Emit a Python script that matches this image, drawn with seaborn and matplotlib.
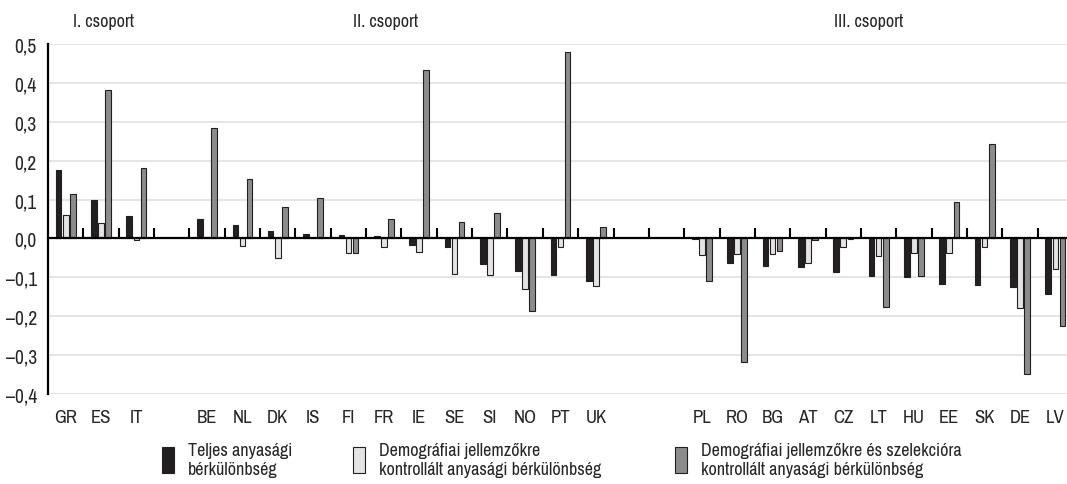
import matplotlib
matplotlib.use("Agg")
import matplotlib.pyplot as plt
from matplotlib.patches import Patch
import numpy as np
import pandas as pd
import seaborn as sns

# slots on the x axis (blank names leave empty slots between the groups)
order = ["GR", "ES", "IT", " ",
         "BE", "NL", "DK", "IS", "FI", "FR", "IE", "SE", "SI", "NO", "PT", "UK", "  ", "   ",
         "PL", "RO", "BG", "AT", "CZ", "LT", "HU", "EE", "SK", "DE", "LV"]
countries = [c for c in order if c.strip()]

teljes = [0.177, 0.100, 0.058,
          0.049, 0.034, 0.020, 0.012, 0.009, 0.007, -0.016, -0.021, -0.065, -0.084, -0.094, -0.110,
          -0.002, -0.064, -0.071, -0.074, -0.087, -0.096, -0.100, -0.116, -0.120, -0.125, -0.142]
demografiai = [0.060, 0.040, -0.003,
               0.004, -0.019, -0.050, 0.002, -0.037, -0.021, -0.036, -0.092, -0.094, -0.130, -0.022, -0.121,
               -0.043, -0.040, -0.040, -0.062, -0.023, -0.044, -0.037, -0.037, -0.022, -0.178, -0.079]
szelekcio = [0.115, 0.383, 0.182,
             0.285, 0.152, 0.082, 0.104, -0.037, 0.051, 0.433, 0.042, 0.066, -0.186, 0.480, 0.030,
             -0.110, -0.317, -0.031, -0.003, -0.001, -0.177, -0.096, 0.094, 0.244, -0.349, -0.225]

series = ["Teljes anyasági\nbérkülönbség",
          "Demográfiai jellemzőkre\nkontrollált anyasági bérkülönbség",
          "Demográfiai jellemzőkre és szelekcióra\nkontrollált anyasági bérkülönbség"]
colors = ["#231f20", "#e4e4e4", "#8c8c8c"]

groups = ["I. csoport", "II. csoport", "III. csoport"]

df = pd.DataFrame({
    "orszag": countries * 3,
    "ertek": teljes + demografiai + szelekcio,
    "sorozat": [series[0]] * len(countries) + [series[1]] * len(countries) + [series[2]] * len(countries),
})

sns.set_style("white")
plt.rcParams["font.family"] = ["Archivo Narrow", "DejaVu Sans"]
plt.rcParams["font.size"] = 13

fig = plt.figure(figsize=(10.67, 4.85), dpi=100)
ax = fig.add_axes([48 / 1067, 90 / 485, 1025 / 1067, 350 / 485])

sns.barplot(data=df, x="orszag", y="ertek", hue="sorozat", order=order, hue_order=series,
            palette=colors, width=0.6, gap=0.2, edgecolor="#231f20", linewidth=0.8,
            legend=False, ax=ax)

ax.set_ylim(-0.4, 0.5)
ax.set_xlim(-0.5, len(order) - 0.5)
yt = np.arange(-4, 6) / 10
ax.set_yticks(yt)
ax.set_yticklabels([f"{v:.1f}".replace(".", ",").replace("-", "\u2013") for v in yt])
ax.set_xlabel("")
ax.set_ylabel("")

ax.yaxis.grid(True, color="#e0e0e0", linewidth=1.2)
ax.set_axisbelow(True)

# zero line = top spine moved to y=0, with small upward ticks between the slots
ax.spines["top"].set_position(("data", 0))
ax.spines["top"].set_linewidth(1.6)
ax.spines["top"].set_color("black")
ax.spines["left"].set_linewidth(1.6)
ax.spines["left"].set_color("black")
ax.spines["right"].set_visible(False)
ax.spines["bottom"].set_visible(False)

ax.set_xticks(np.arange(len(order) - 1) + 0.5, minor=True)
ax.tick_params(axis="x", which="minor", bottom=False, top=True, direction="out",
               length=7, width=1.5, color="black")
ax.tick_params(axis="x", which="major", bottom=True, top=False, length=0, pad=11, labelsize=13.5)
ax.tick_params(axis="y", length=0, pad=8, labelsize=14)

# group titles
for name, xpos in zip(groups, [1.07, 9.06, 22.72]):
    ax.text(xpos, 1.065, name, transform=ax.get_xaxis_transform(), ha="center", va="center", fontsize=13)

# legend: three separate entries
for lab, col, xa in zip(series, colors, [162, 353, 675]):
    h = Patch(facecolor=col, edgecolor="#231f20", linewidth=0.8)
    fig.legend([h], [lab], loc="upper left", bbox_to_anchor=(xa / 1067, 42 / 485),
               frameon=False, borderpad=0, borderaxespad=0, handlelength=0.65,
               handleheight=1.8, handletextpad=0.8, labelspacing=0, fontsize=13)

plt.savefig("out.png", dpi=100)
